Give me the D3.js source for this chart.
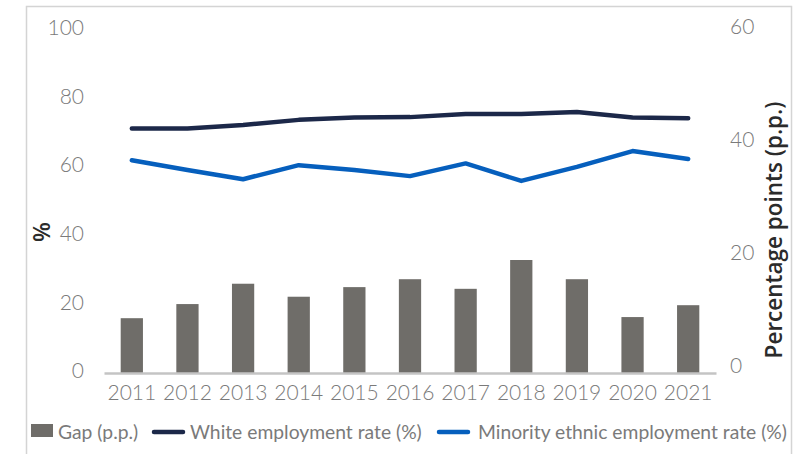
<!DOCTYPE html>
<html>
<head>
<meta charset="utf-8">
<script src="https://cdn.jsdelivr.net/npm/d3@7"></script>
<style>
  body { margin: 0; background: #fff; }
  svg { display: block; font-family: Lato, "Open Sans", sans-serif; }
</style>
</head>
<body>
<svg width="801" height="454"></svg>
<script>
const years = ['2011','2012','2013','2014','2015','2016','2017','2018','2019','2020','2021'];
const gap = [9.7, 12.2, 15.8, 13.5, 15.2, 16.6, 14.9, 20.0, 16.6, 9.9, 12.0];
const white = [71.3, 71.3, 72.3, 73.8, 74.5, 74.6, 75.5, 75.5, 76.1, 74.5, 74.3];
const minority = [62.0, 59.2, 56.5, 60.6, 59.2, 57.4, 61.1, 56.0, 60.1, 64.7, 62.4];
const leftTicks = [0, 20, 40, 60, 80, 100];
const rightTicks = [0, 20, 40, 60];

const svg = d3.select('svg');
const grey = '#7a7a7a';

// outer frame
svg.append('rect')
  .attr('x', 26.5).attr('y', 6.5)
  .attr('width', 765).attr('height', 460)
  .attr('fill', 'none').attr('stroke', '#d4d4d4').attr('stroke-width', 1.5);

const x = d3.scaleBand().domain(years).range([104, 716])
  .paddingInner(0.6).paddingOuter(0.3);
const yL = d3.scaleLinear().domain([0, 100]).range([373, 30]);
const yR = d3.scaleLinear().domain([0, 60]).range([373, 34]);

// bars
svg.append('g').selectAll('rect').data(gap).enter().append('rect')
  .attr('x', (d, i) => x(years[i]))
  .attr('y', d => yR(d))
  .attr('width', x.bandwidth())
  .attr('height', d => yR(0) - yR(d))
  .attr('fill', '#6f6d69');

// axes
const tickFont = sel => sel.selectAll('text')
  .attr('font-size', 21).attr('font-weight', 300)
  .attr('fill', grey).attr('font-family', 'Lato');

const xAxis = svg.append('g')
  .attr('transform', `translate(0,${yL(0)})`)
  .call(d3.axisBottom(x).tickSize(0).tickPadding(12));
xAxis.select('.domain').attr('stroke', '#c4c4c4').attr('stroke-width', 2.5);
tickFont(xAxis);

const leftAxis = svg.append('g')
  .attr('transform', 'translate(84,-2)')
  .call(d3.axisLeft(yL).tickValues(leftTicks).tickSize(0).tickPadding(0));
leftAxis.select('.domain').remove();
tickFont(leftAxis);

const rightAxis = svg.append('g')
  .attr('transform', 'translate(730,-7)')
  .call(d3.axisRight(yR).tickValues(rightTicks).tickSize(0).tickPadding(0));
rightAxis.select('.domain').remove();
tickFont(rightAxis);

// lines
const line = d3.line()
  .x((d, i) => x(years[i]) + x.bandwidth() / 2)
  .y(d => yL(d));

svg.append('path').datum(white)
  .attr('d', line).attr('fill', 'none')
  .attr('stroke', '#1c2849').attr('stroke-width', 4.5)
  .attr('stroke-linecap', 'round').attr('stroke-linejoin', 'round');
svg.append('path').datum(minority)
  .attr('d', line).attr('fill', 'none')
  .attr('stroke', '#065fbd').attr('stroke-width', 4.5)
  .attr('stroke-linecap', 'round').attr('stroke-linejoin', 'round');

// axis titles
svg.append('text')
  .attr('transform', 'translate(41,232) rotate(-90)')
  .attr('text-anchor', 'middle').attr('dominant-baseline', 'central')
  .attr('font-family', 'Open Sans')
  .attr('font-size', 23).attr('font-weight', 600).attr('fill', '#2b2b2b')
  .text('%');
svg.append('text')
  .attr('transform', 'translate(773,230) rotate(-90)')
  .attr('text-anchor', 'middle').attr('dominant-baseline', 'central')
  .attr('font-family', 'Open Sans')
  .attr('font-size', 22.5).attr('font-weight', 600).attr('fill', '#2b2b2b')
  .text('Percentage points (p.p.)');

// legend
const lg = svg.append('g').attr('font-size', 19.3).attr('fill', grey);
lg.append('rect').attr('x', 31).attr('y', 424).attr('width', 22).attr('height', 13).attr('fill', '#6f6d69');
lg.append('text').attr('x', 58).attr('y', 431).attr('dominant-baseline', 'central').text('Gap (p.p.)');
lg.append('line').attr('x1', 154).attr('x2', 183).attr('y1', 432).attr('y2', 432)
  .attr('stroke', '#1c2849').attr('stroke-width', 4.5).attr('stroke-linecap', 'round');
lg.append('text').attr('x', 190).attr('y', 431).attr('dominant-baseline', 'central').text('White employment rate (%)');
lg.append('line').attr('x1', 439).attr('x2', 468).attr('y1', 432).attr('y2', 432)
  .attr('stroke', '#065fbd').attr('stroke-width', 4.5).attr('stroke-linecap', 'round');
lg.append('text').attr('x', 478).attr('y', 431).attr('dominant-baseline', 'central').text('Minority ethnic employment rate (%)');
</script>
</body>
</html>
